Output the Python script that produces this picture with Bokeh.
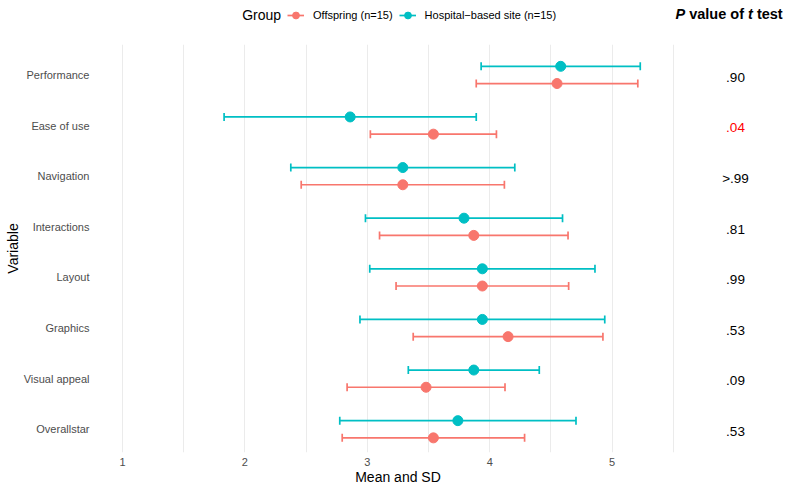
import numpy as np
from bokeh.plotting import figure
from bokeh.layouts import column, row
from bokeh.models import ColumnDataSource, Range1d, FixedTicker, Legend, LegendItem, Label
from bokeh.core.properties import value
from bokeh.embed import file_html
from bokeh.resources import INLINE

# ---------------- data ----------------
variables = ["Performance", "Ease of use", "Navigation", "Interactions",
             "Layout", "Graphics", "Visual appeal", "Overallstar"]
offspring_mean = [4.55, 3.54, 3.29, 3.87, 3.94, 4.15, 3.48, 3.54]
offspring_sd = [0.66, 0.515, 0.83, 0.77, 0.705, 0.775, 0.645, 0.745]
hospital_mean = [4.58, 2.86, 3.29, 3.79, 3.94, 3.94, 3.87, 3.74]
hospital_sd = [0.65, 1.03, 0.915, 0.805, 0.92, 1.00, 0.535, 0.965]
p_labels = [".90", ".04", ">.99", ".81", ".99", ".53", ".09", ".53"]
x_ticks = [1, 2, 3, 4, 5]
x_minor_ticks = [1.5, 2.5, 3.5, 4.5, 5.5]
group_labels = ["Offspring (n=15)", "Hospital\u2212based site (n=15)"]

# ---------------- styling ----------------
FONT = "Liberation Sans"
C_OFF = "#F8766D"
C_HOSP = "#00BFC4"
DODGE = 0.17

n = len(variables)
ypos = np.arange(n, 0, -1, dtype=float)  # Performance at top


def blank(fig):
    fig.outline_line_color = None
    fig.background_fill_color = "white"
    fig.border_fill_color = "white"


# ---------------- main panel ----------------
p = figure(width=701, height=457, output_backend="svg", toolbar_location=None,
           x_range=Range1d(0.7794, 5.7222), y_range=Range1d(0.541, 8.601),
           min_border_left=95, min_border_right=1, min_border_top=14,
           min_border_bottom=34)
blank(p)

p.xaxis.ticker = FixedTicker(ticks=x_ticks, minor_ticks=x_minor_ticks)
p.yaxis.ticker = FixedTicker(ticks=list(ypos))
p.yaxis.major_label_overrides = {int(y): v for y, v in zip(ypos, variables)}
p.xaxis.axis_label = "Mean and SD"
p.yaxis.axis_label = "Variable"
for ax in (p.xaxis, p.yaxis):
    ax.axis_line_color = None
    ax.major_tick_line_color = None
    ax.minor_tick_line_color = None
    ax.major_tick_out = 0
    ax.major_tick_in = 0
    ax.minor_tick_out = 0
    ax.minor_tick_in = 0
    ax.major_label_text_font = FONT
    ax.major_label_text_font_size = "11px"
    ax.major_label_text_color = "#4D4D4D"
    ax.axis_label_text_font = FONT
    ax.axis_label_text_font_size = "14px"
    ax.axis_label_text_font_style = "normal"
    ax.axis_label_text_color = "black"
    ax.axis_label_standoff = 0
p.xaxis.major_label_standoff = 5
p.yaxis.major_label_standoff = 6

p.xgrid.grid_line_color = "#EBEBEB"
p.xgrid.grid_line_width = 1
p.xgrid.minor_grid_line_color = "#EBEBEB"
p.xgrid.minor_grid_line_width = 1
p.ygrid.grid_line_color = None


def make_source(means, sds, offset):
    means = np.array(means)
    sds = np.array(sds)
    return ColumnDataSource(dict(y=ypos + offset, m=means,
                                 lo=means - sds, hi=means + sds))


def draw_group(fig, src, color, visible=True):
    seg = fig.segment(x0="lo", y0="y", x1="hi", y1="y", source=src,
                      line_color=color, line_width=1.7, visible=visible)
    if visible:
        for col in ("lo", "hi"):
            fig.scatter(x=col, y="y", source=src, marker="dash",
                        angle=np.pi / 2, size=8, line_color=color,
                        line_width=1.7)
    pts = fig.scatter(x="m", y="y", source=src, size=10, fill_color=color,
                      line_color=color, visible=visible)
    return seg, pts


src_off = make_source(offspring_mean, offspring_sd, -DODGE)
src_hosp = make_source(hospital_mean, hospital_sd, DODGE)
draw_group(p, src_off, C_OFF)
draw_group(p, src_hosp, C_HOSP)

# ---------------- p-value column ----------------
pr = figure(width=83, height=457, output_backend="svg", toolbar_location=None,
            x_range=Range1d(0, 83), y_range=p.y_range,
            x_axis_type=None, y_axis_type=None,
            min_border_left=0, min_border_right=0, min_border_top=14,
            min_border_bottom=34)
blank(pr)
p_colors = ["red" if float(s.lstrip(">")) < 0.05 else "black" for s in p_labels]
psrc = ColumnDataSource(dict(y=ypos - 0.045, t=p_labels, c=p_colors))
pr.text(x=34, y="y", text="t", source=psrc, text_color="c",
        text_font=value(FONT), text_font_size=value("13.5px"),
        text_align="center", text_baseline="middle")

# ---------------- top strip: legend + header ----------------
top = figure(width=784, height=30, output_backend="svg", toolbar_location=None,
             x_range=Range1d(0, 784), y_range=Range1d(0, 30),
             x_axis_type=None, y_axis_type=None, min_border=0)
blank(top)
items = []
for lab, src, col in zip(group_labels, (src_off, src_hosp), (C_OFF, C_HOSP)):
    seg, pts = draw_group(top, src, col, visible=False)  # legend keys only
    items.append(LegendItem(label=lab, renderers=[seg, pts]))
legend = Legend(items=items, orientation="horizontal", location=(287, 6.5),
                glyph_width=17, glyph_height=18, label_height=18,
                label_standoff=9, spacing=6, padding=0, margin=0,
                border_line_color=None, background_fill_alpha=0,
                inactive_fill_alpha=0,
                label_text_font=FONT, label_text_font_size="11px",
                label_text_color="black")
top.add_layout(legend)
top.add_layout(Label(x=241.7, y=15.5, text="Group", text_font=FONT,
                     text_font_size="14px", text_baseline="middle",
                     text_color="black"))
for xs, txt, style in [(675, "P", "bold italic"), (688.7, "value of", "bold"),
                       (747.5, "t", "bold italic"), (756.4, "test", "bold")]:
    top.add_layout(Label(x=xs, y=16.5, text=txt, text_font=FONT,
                         text_font_size="14.5px", text_font_style=style,
                         text_baseline="middle", text_color="black"))

layout = column(top, row(p, pr))
open("out.html", "w").write(file_html(layout, INLINE))
